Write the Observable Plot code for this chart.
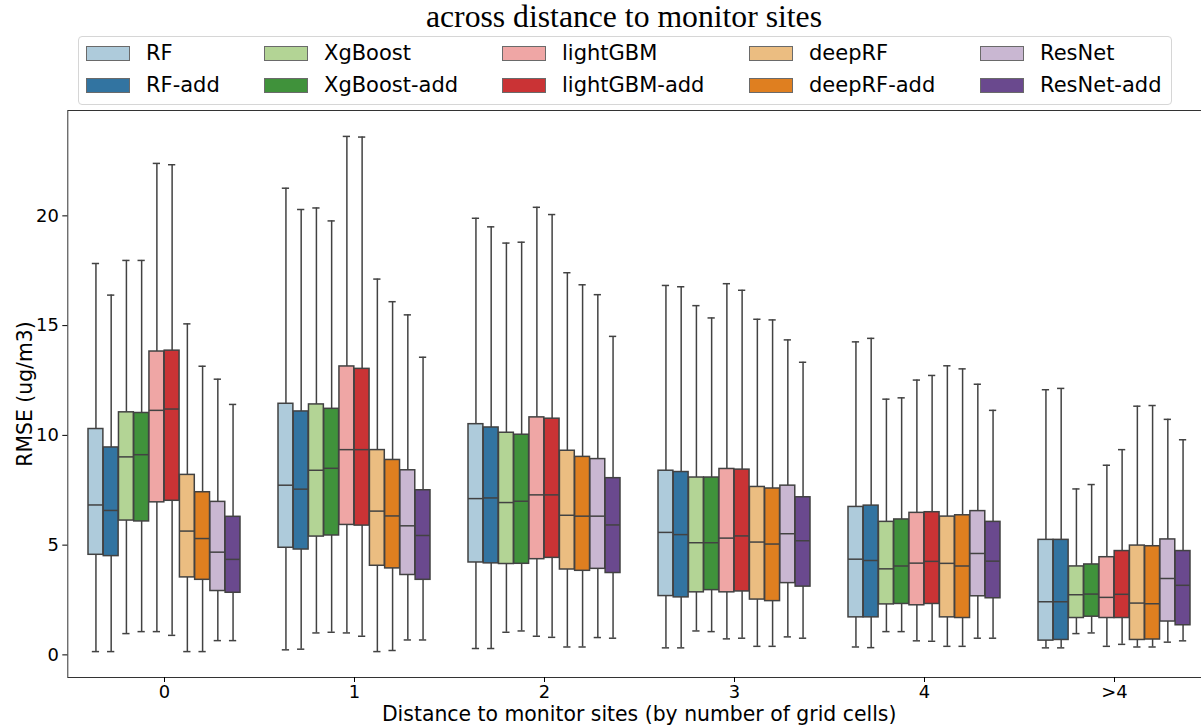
<!DOCTYPE html>
<html>
<head>
<meta charset="utf-8">
<script src="https://cdn.jsdelivr.net/npm/d3@7"></script>
<script src="https://cdn.jsdelivr.net/npm/@observablehq/plot@0.6"></script>
<style>
  html, body { margin: 0; padding: 0; background: #fff; overflow: hidden; }
  #title { width: 1248px; height: 34px; line-height: 34px; text-align: center;
           font-family: "Liberation Serif", "Times New Roman", serif; font-size: 31.7px; color: #000; }
  #legend { box-sizing: border-box; margin-top: 2px; margin-left: 78px; width: 1094px; height: 69px;
            border: 1px solid #d6d6d6; border-radius: 4px; padding: 6px 7px 0 7px;
            display: grid; grid-template-rows: 21px 21px; grid-auto-flow: column;
            grid-template-columns: 178px 238px 247px 231px auto; column-gap: 0; row-gap: 10.6px;
            font-family: "DejaVu Sans", sans-serif; font-size: 21px; color: #000; }
  .item { display: flex; align-items: center; height: 21px; line-height: 21px; white-space: nowrap; }
  .sw { box-sizing: border-box; width: 44px; height: 15px; margin-right: 16px; border: 1px solid #6a6a6a; }
</style>
</head>
<body>
<div id="title">across distance to monitor sites</div>
<div id="legend"></div>
<div id="chart"></div>
<script>
const distances = ["0", "1", "2", "3", "4", ">4"];
const models = ["RF", "RF-add", "XgBoost", "XgBoost-add", "lightGBM", "lightGBM-add", "deepRF", "deepRF-add", "ResNet", "ResNet-add"];
const colors = ["#aecbdb", "#3274a1", "#b3d495", "#40923b", "#efa6a5", "#ca3335", "#ebbd81", "#df7f20", "#c9b7d2", "#6a498e"];

// rows: models, columns: distances
const whiskerHigh = [
  [17.83, 21.26, 19.89, 16.83, 14.26, 12.08],
  [16.39, 20.29, 19.50, 16.77, 14.42, 12.14],
  [17.97, 20.36, 18.76, 15.91, 11.65, 7.56],
  [17.97, 19.77, 18.80, 15.35, 11.71, 7.76],
  [22.39, 23.62, 20.39, 16.91, 12.52, 8.64],
  [22.33, 23.59, 20.06, 16.61, 12.73, 9.35],
  [15.08, 17.12, 17.41, 15.29, 13.17, 11.33],
  [13.15, 16.09, 16.86, 15.26, 13.03, 11.36],
  [12.56, 15.49, 16.41, 14.35, 12.33, 10.73],
  [11.41, 13.56, 14.51, 13.33, 11.14, 9.80]
];
const q3 = [
  [10.29, 11.44, 10.51, 8.39, 6.74, 5.24],
  [9.45, 11.09, 10.36, 8.33, 6.80, 5.24],
  [11.05, 11.41, 10.12, 8.08, 6.06, 4.03],
  [11.02, 11.21, 10.03, 8.08, 6.17, 4.12],
  [13.82, 13.14, 10.82, 8.47, 6.47, 4.45],
  [13.86, 13.03, 10.76, 8.44, 6.50, 4.73],
  [8.20, 9.33, 9.30, 7.65, 6.30, 4.98],
  [7.41, 8.88, 9.02, 7.58, 6.36, 4.95],
  [6.97, 8.41, 8.92, 7.71, 6.55, 5.26],
  [6.29, 7.50, 8.05, 7.18, 6.06, 4.73]
];
const median = [
  [6.83, 7.73, 7.12, 5.58, 4.36, 2.42],
  [6.58, 7.55, 7.15, 5.48, 4.30, 2.42],
  [9.02, 8.41, 6.94, 5.11, 3.92, 2.74],
  [9.12, 8.50, 7.00, 5.11, 4.05, 2.77],
  [11.14, 9.35, 7.29, 5.32, 4.18, 2.62],
  [11.20, 9.35, 7.29, 5.42, 4.26, 2.76],
  [5.64, 6.55, 6.36, 5.14, 4.17, 2.36],
  [5.30, 6.33, 6.32, 5.05, 4.05, 2.33],
  [4.68, 5.88, 6.32, 5.52, 4.62, 3.48],
  [4.35, 5.44, 5.92, 5.20, 4.27, 3.17]
];
const q1 = [
  [4.56, 4.88, 4.21, 2.68, 1.71, 0.65],
  [4.50, 4.80, 4.17, 2.62, 1.71, 0.68],
  [6.12, 5.39, 4.14, 2.85, 2.30, 1.68],
  [6.08, 5.44, 4.15, 2.95, 2.32, 1.74],
  [6.95, 5.92, 4.36, 2.85, 2.26, 1.68],
  [7.02, 5.89, 4.42, 2.89, 2.32, 1.68],
  [3.53, 4.06, 3.89, 2.52, 1.71, 0.68],
  [3.42, 3.94, 3.83, 2.45, 1.68, 0.70],
  [2.91, 3.64, 3.92, 3.27, 2.67, 1.52],
  [2.83, 3.42, 3.73, 3.11, 2.58, 1.35]
];
const whiskerLow = [
  [0.15, 0.23, 0.29, 0.32, 0.36, 0.32],
  [0.15, 0.26, 0.29, 0.32, 0.33, 0.32],
  [0.97, 1.00, 1.03, 1.09, 1.06, 0.97],
  [1.06, 1.03, 1.09, 1.06, 1.06, 1.00],
  [1.06, 1.00, 0.85, 0.73, 0.64, 0.39],
  [0.89, 0.85, 0.80, 0.76, 0.62, 0.48],
  [0.15, 0.15, 0.36, 0.39, 0.39, 0.36],
  [0.15, 0.20, 0.36, 0.39, 0.39, 0.36],
  [0.65, 0.68, 0.79, 0.82, 0.76, 0.58],
  [0.65, 0.68, 0.76, 0.76, 0.76, 0.64]
];
const yTicks = [0, 5, 10, 15, 20];
const yLabel = "RMSE (ug/m3)";
const xLabel = "Distance to monitor sites (by number of grid cells)";

// legend
const legend = document.getElementById("legend");
models.forEach((m, i) => {
  const it = document.createElement("div");
  it.className = "item";
  const sw = document.createElement("span");
  sw.className = "sw";
  sw.style.background = colors[i];
  it.appendChild(sw);
  it.appendChild(document.createTextNode(m));
  legend.appendChild(it);
});

// table
const rows = [];
models.forEach((m, i) => distances.forEach((d, j) => rows.push({
  model: m, distance: d, lo: whiskerLow[i][j], q1: q1[i][j], med: median[i][j], q3: q3[i][j], hi: whiskerHigh[i][j]
})));

const marginLeft = 67.3, width = 1201, marginRight = -9;
const step = (width - marginRight - marginLeft) / 6;
const bw = step * 0.8 / models.length;
const edge = "#424242";

const marks = [];
models.forEach((m, i) => {
  const d = rows.filter(r => r.model === m);
  const dx = (i - (models.length - 1) / 2) * bw;
  const L = i * bw, R = (models.length - 1 - i) * bw;
  marks.push(
    Plot.ruleX(d, {x: "distance", y1: "lo", y2: "q1", dx, stroke: edge, strokeWidth: 1.5}),
    Plot.ruleX(d, {x: "distance", y1: "q3", y2: "hi", dx, stroke: edge, strokeWidth: 1.5}),
    Plot.tickY(d, {x: "distance", y: "lo", insetLeft: L + bw / 4, insetRight: R + bw / 4, stroke: edge, strokeWidth: 1.5}),
    Plot.tickY(d, {x: "distance", y: "hi", insetLeft: L + bw / 4, insetRight: R + bw / 4, stroke: edge, strokeWidth: 1.5}),
    Plot.barY(d, {x: "distance", y1: "q1", y2: "q3", insetLeft: L, insetRight: R, fill: colors[i], stroke: edge, strokeWidth: 1.5}),
    Plot.tickY(d, {x: "distance", y: "med", insetLeft: L, insetRight: R, stroke: edge, strokeWidth: 1.5})
  );
});

const chart = Plot.plot({
  width, height: 620,
  marginLeft, marginRight, marginTop: 5, marginBottom: 48,
  style: {fontFamily: "DejaVu Sans", fontSize: "17.9px", color: "#000", background: "#fff"},
  x: {type: "band", domain: distances, paddingInner: 0.2, paddingOuter: 0.1, label: null},
  y: {domain: [-1.03, 24.8], label: null},
  marks: [
    ...marks,
    Plot.frame({stroke: "#333", strokeWidth: 1}),
    Plot.axisX({tickSize: 5, tickPadding: 3, label: null, fontSize: 17.9}),
    Plot.axisY({ticks: yTicks, tickSize: 5, tickPadding: 4, label: null, fontSize: 17.9}),
    Plot.text([yLabel], {frameAnchor: "left", dx: -42, rotate: -90, textAnchor: "middle", lineAnchor: "middle", fontSize: 20.4}),
    Plot.text([xLabel], {frameAnchor: "bottom", dy: 36.5, textAnchor: "middle", lineAnchor: "middle", fontSize: 20.4})
  ]
});
document.getElementById("chart").appendChild(chart);
</script>
</body>
</html>
